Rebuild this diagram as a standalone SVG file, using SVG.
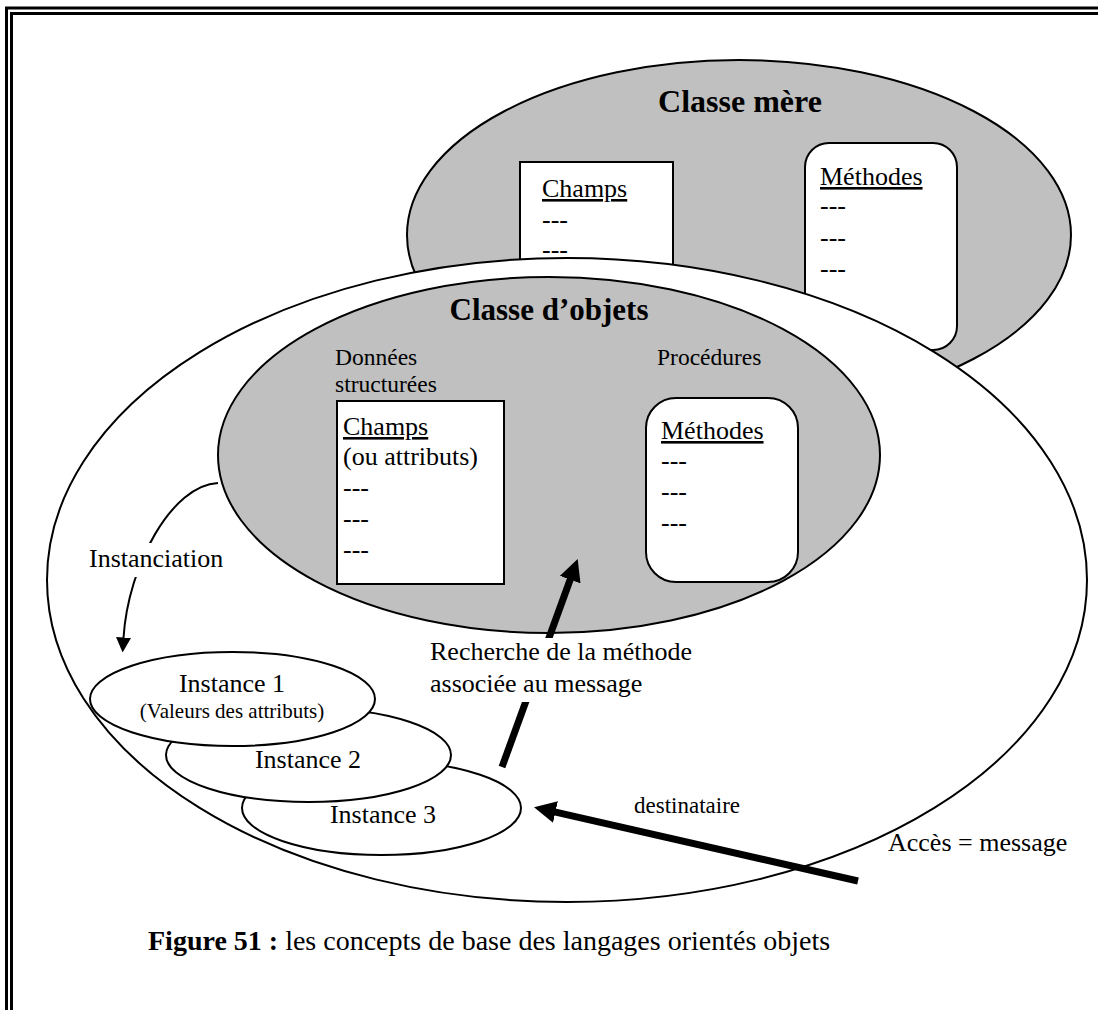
<svg xmlns="http://www.w3.org/2000/svg" width="1098" height="1010" viewBox="0 0 1098 1010">
  <style>
    text { font-family: "Liberation Serif", "Times New Roman", serif; fill: #000; }
    .title { font-weight: bold; font-size: 31px; text-anchor: middle; }
    .body { font-size: 26px; }
    .small { font-size: 23.5px; }
    .u { text-decoration: underline; }
    .mid { text-anchor: middle; }
    .class { fill: #c0c0c0; stroke: #000; stroke-width: 2; }
    .box { fill: #fff; stroke: #000; stroke-width: 2; }
    .frame { fill: none; stroke: #000; stroke-width: 3; }
    .thick { fill: none; stroke: #000; stroke-width: 7; }
    .thin { fill: none; stroke: #000; stroke-width: 2; }
  </style>
  <defs>
    <marker id="bigHead" markerUnits="userSpaceOnUse" markerWidth="22" markerHeight="22" viewBox="0 0 22 22" refX="1" refY="11" orient="auto">
      <path d="M0,0 L22,11 L0,22 z" fill="#000"/>
    </marker>
    <marker id="smallHead" markerUnits="userSpaceOnUse" markerWidth="15" markerHeight="15" viewBox="0 0 15 15" refX="0.5" refY="7.5" orient="auto">
      <path d="M0,0 L15,7.5 L0,15 z" fill="#000"/>
    </marker>
  </defs>

  <rect width="1098" height="1010" fill="#fff"/>

  <!-- double page frame (left and top edges) -->
  <g id="frame">
    <path class="frame" d="M6.5,1010 V8 H1098"/>
    <path class="frame" d="M11.5,1010 V13.5 H1098"/>
  </g>

  <!-- parent class -->
  <g id="classe-mere">
    <ellipse class="class" cx="739" cy="235" rx="332" ry="175"/>
    <text class="title" x="740" y="112" style="font-size:32px">Classe mère</text>
    <rect class="box" x="520" y="162" width="153" height="130"/>
    <text class="body u" x="542" y="197">Champs</text>
    <text class="body" x="542" y="228">---</text>
    <text class="body" x="542" y="258">---</text>
    <rect class="box" x="805" y="143" width="152" height="207" rx="24"/>
    <text class="body u" x="820" y="185">Méthodes</text>
    <text class="body" x="820" y="214">---</text>
    <text class="body" x="820" y="246">---</text>
    <text class="body" x="820" y="277">---</text>
  </g>

  <!-- object class container -->
  <g id="classe-objets">
    <ellipse class="box" cx="567" cy="580" rx="520" ry="322"/>
    <ellipse class="class" cx="549" cy="455" rx="331" ry="178"/>
    <text class="title" x="549" y="320">Classe d’objets</text>
    <text class="small" x="335" y="365">Données</text>
    <text class="small" x="335" y="392">structurées</text>
    <text class="small" x="657" y="365">Procédures</text>
  </g>

  <g id="champs">
    <rect class="box" x="337" y="401" width="167" height="183"/>
    <text class="body u" x="343" y="435">Champs</text>
    <text class="body" x="343" y="465">(ou attributs)</text>
    <text class="body" x="343" y="496">---</text>
    <text class="body" x="343" y="527">---</text>
    <text class="body" x="343" y="558">---</text>
  </g>

  <g id="methodes">
    <rect class="box" x="646" y="398" width="152" height="184" rx="30"/>
    <text class="body u" x="661" y="439">Méthodes</text>
    <text class="body" x="661" y="469">---</text>
    <text class="body" x="661" y="500">---</text>
    <text class="body" x="661" y="531">---</text>
  </g>

  <!-- instances, stacked back to front -->
  <g id="instance-3">
    <ellipse class="box" cx="381.5" cy="808" rx="139.5" ry="47"/>
    <text class="body mid" x="383" y="823">Instance 3</text>
  </g>
  <g id="instance-2">
    <ellipse class="box" cx="308.5" cy="755" rx="142.5" ry="47"/>
    <text class="body mid" x="308" y="768">Instance 2</text>
  </g>
  <g id="instance-1">
    <ellipse class="box" cx="232.5" cy="699" rx="142.5" ry="47"/>
    <text class="body mid" x="232" y="692">Instance 1</text>
    <text class="mid" x="232" y="718" style="font-size:21px">(Valeurs des attributs)</text>
  </g>

  <!-- connectors -->
  <g id="connectors">
    <path id="instanciation" class="thin" d="M218,483 C172,485 128,565 123.5,638" marker-end="url(#smallHead)"/>
    <path id="recherche" class="thick" d="M502,767 L570.5,578.7" marker-end="url(#bigHead)"/>
    <path id="destinataire" class="thick" d="M858,881 L554.5,811.8" marker-end="url(#bigHead)"/>
  </g>

  <!-- connector labels -->
  <g id="labels">
    <rect x="86" y="543" width="140" height="34" fill="#fff"/>
    <text class="body" x="89" y="567">Instanciation</text>
    <rect x="427" y="638" width="274" height="64" fill="#fff"/>
    <text class="body" x="430" y="660">Recherche de la méthode</text>
    <text class="body" x="430" y="692">associée au message</text>
    <text x="634" y="813" style="font-size:23px">destinataire</text>
    <text class="body" x="888" y="851">Accès = message</text>
  </g>

  <!-- caption -->
  <text id="caption" x="148" y="950" style="font-size:28px"><tspan font-weight="bold">Figure 51 :</tspan> les concepts de base des langages orientés objets</text>
</svg>
